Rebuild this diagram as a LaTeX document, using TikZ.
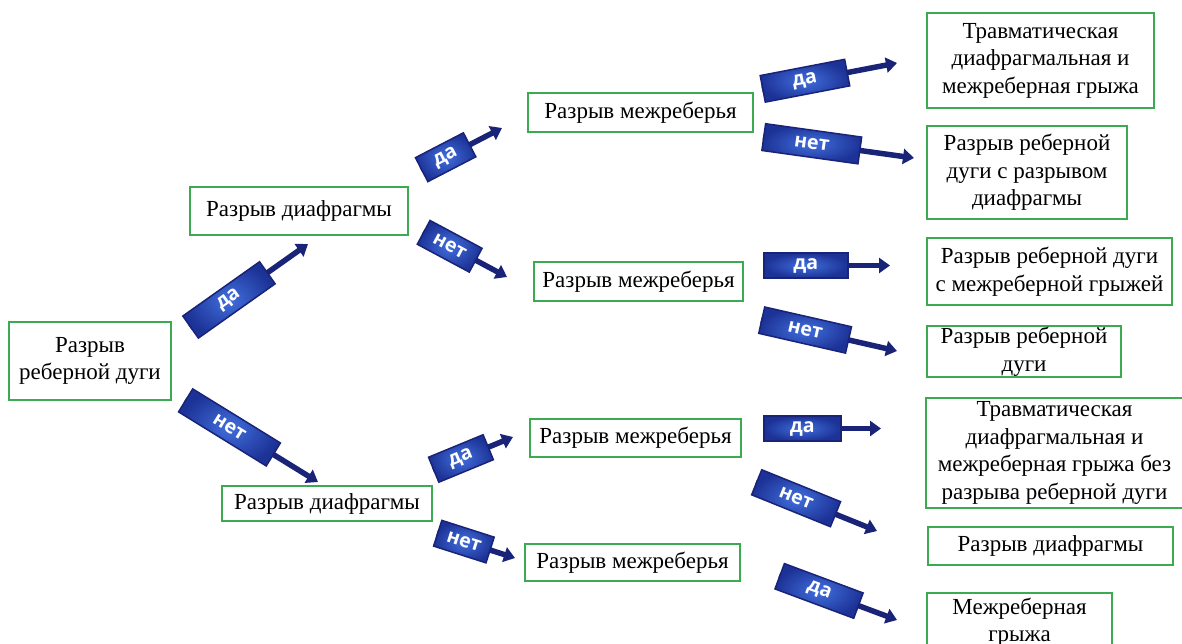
\documentclass[tikz,border=0pt]{standalone}
\usepackage{fontspec}
\setmainfont{Liberation Serif}
\newfontfamily\arrfont{Open Sans}
\usetikzlibrary{arrows.meta,calc}
\definecolor{boxgreen}{RGB}{60,170,80}
\definecolor{navy}{RGB}{25,35,120}
\definecolor{blueA}{RGB}{65,110,220}
\definecolor{blueB}{RGB}{28,50,150}
\tikzset{
 box/.style={draw=boxgreen, line width=1.5pt, fill=white, align=center, font=\fontsize{23}{27.5}\selectfont, inner sep=0pt},
 blockbox/.style={draw=navy, line width=1.5pt, inner color=blueA, outer color=blueB, text=white, font=\arrfont\bfseries\fontsize{19.5}{22}\selectfont, inner sep=0pt, minimum height=27pt},
 flatbox/.style={minimum height=25pt},
 shaft/.style={draw=navy, line width=5.5pt, -{Triangle[length=11pt,width=15pt]}},
}
\newcommand\blockarrow[6][]{%
 \coordinate (#2t) at #3; \coordinate (#2h) at #4;
 \draw[shaft] (#2t) -- (#2h);
 \path let \p1=($(#2h)-(#2t)$), \n1={atan2(\y1,\x1)} in node[blockbox, rotate=\n1, anchor=west, minimum width=#5, #1] (#2) at (#2t) {#6};
}
\begin{document}
\begin{tikzpicture}[x=1pt,y=-1pt]
\useasboundingbox (0,0) rectangle (1182,644);
\fill[white] (0,0) rectangle (1182,644);
\clip (0,0) rectangle (1182,644);
% boxes
\node[box, minimum width=162pt, minimum height=78pt] (root) at (90,361) {Разрыв\\реберной дуги};
\node[box, minimum width=218pt, minimum height=48pt] (d1) at (299,211) {Разрыв диафрагмы};
\node[box, minimum width=210pt, minimum height=35pt] (d2) at (327,503.5) {Разрыв диафрагмы};
\node[box, minimum width=225pt, minimum height=39pt] (m1) at (640.5,112.5) {Разрыв межреберья};
\node[box, minimum width=209pt, minimum height=39pt] (m2) at (638.5,281.5) {Разрыв межреберья};
\node[box, minimum width=211pt, minimum height=38pt] (m3) at (635.5,438) {Разрыв межреберья};
\node[box, minimum width=215pt, minimum height=37pt] (m4) at (632.5,562.5) {Разрыв межреберья};
\node[box, minimum width=227pt, minimum height=95pt] (ra) at (1040.5,60.5) {Травматическая\\диафрагмальная и\\межреберная грыжа};
\node[box, minimum width=200pt, minimum height=93pt] (rb) at (1027,172.5) {Разрыв реберной\\дуги с разрывом\\диафрагмы};
\node[box, minimum width=245pt, minimum height=67pt] (rc) at (1049.5,271.5) {Разрыв реберной дуги\\с межреберной грыжей};
\node[box, minimum width=194pt, minimum height=51pt] (rd) at (1024,351.5) {Разрыв реберной\\дуги};
\node[box, minimum width=257pt, minimum height=110pt] (re) at (1054.5,453) {Травматическая\\диафрагмальная и\\межреберная грыжа без\\разрыва реберной дуги};
\node[box, minimum width=245pt, minimum height=38pt] (rf) at (1050.5,546) {Разрыв диафрагмы};
\node[box, minimum width=185pt, minimum height=58pt] (rg) at (1019.5,622) {Межреберная\\грыжа};
% block arrows
\blockarrow{a1}{(190,327.5)}{(308,244)}{94pt}{да}
\blockarrow{a2}{(185,400)}{(318,482)}{103pt}{нет}
\blockarrow{a3}{(421,170)}{(502,128)}{54pt}{да}
\blockarrow{a4}{(423,232)}{(507,277)}{59pt}{нет}
\blockarrow{a5}{(433,470)}{(513,437)}{59pt}{да}
\blockarrow{a6}{(437,533)}{(515,558)}{55pt}{нет}
\blockarrow{a7}{(762,89)}{(897,63)}{86pt}{да}
\blockarrow{a8}{(763,137)}{(914,158)}{97pt}{нет}
\blockarrow[flatbox]{a9}{(763,265.5)}{(890,265.5)}{84pt}{да}
\blockarrow{a10}{(761,320)}{(897,351)}{89pt}{нет}
\blockarrow[flatbox]{a11}{(763,428.5)}{(881,428.5)}{77pt}{да}
\blockarrow{a12}{(756,482)}{(877,531)}{85pt}{нет}
\blockarrow{a13}{(779,576)}{(897,620)}{84pt}{да}
\end{tikzpicture}
\end{document}
